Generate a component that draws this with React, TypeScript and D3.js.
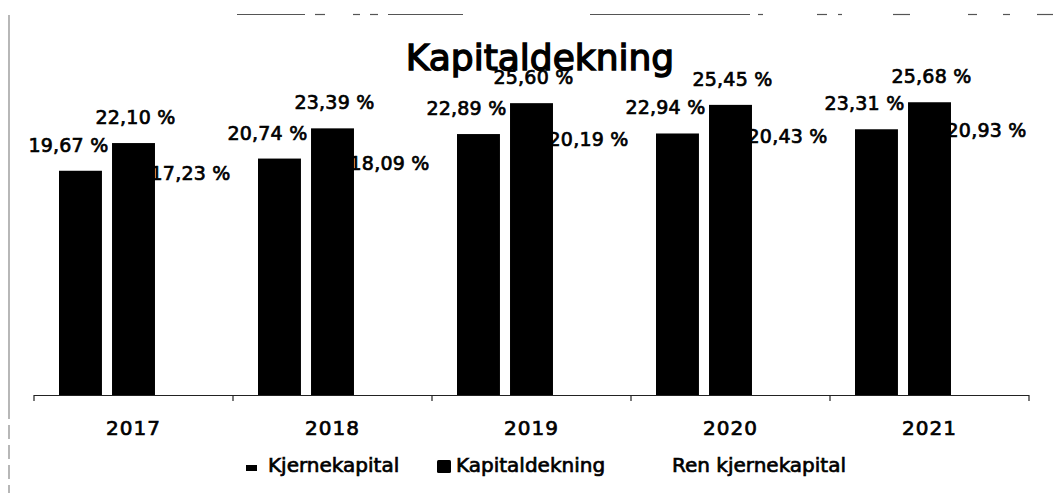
import React from "react";
import { scaleBand, scaleLinear, range } from "d3";

const years = ["2017", "2018", "2019", "2020", "2021"];
const seriesNames = ["Kjernekapital", "Kapitaldekning", "Ren kjernekapital"];
const kjernekapital = [19.67, 20.74, 22.89, 22.94, 23.31];
const kapitaldekning = [22.1, 23.39, 25.6, 25.45, 25.68];
const renKjernekapital = [17.23, 18.09, 20.19, 20.43, 20.93];
const seriesValues = [kjernekapital, kapitaldekning, renKjernekapital];
const seriesFill = ["#000", "#000", "#fff"];

// scanned frame pieces (decoration only)
const topFrame = [
  [237, 305], [315, 325], [353, 360], [370, 378], [388, 463],
  [590, 750], [758, 763], [817, 827], [838, 842], [893, 910],
  [968, 977], [1003, 1010], [1037, 1053],
];

const fmt = (v: number) => v.toFixed(2).replace(".", ",") + " %";

const App = () => {
  const width = 1060;
  const height = 493;
  const baseY = 395;

  const x = scaleBand<string>().domain(years).range([34, 1029]).padding(0);
  const inner = scaleBand<string>()
    .domain(seriesNames)
    .range([-74.5, 74.5])
    .paddingInner(0.19)
    .paddingOuter(0);
  const y = scaleLinear().domain([0, 30]).range([baseY, 53]);

  const labelShift = [-12, 2, 4];
  const font = "'DejaVu Sans', Verdana, sans-serif";

  return (
    <svg
      width={width}
      height={height}
      style={{ position: "absolute", left: 0, top: 0, background: "#fff" }}
      fontFamily={font}
    >
      {/* frame */}
      <line x1={9} x2={9} y1={15} y2={405} stroke="#888" strokeWidth={1.2} />
      <line x1={9} x2={9} y1={405} y2={493} stroke="#888" strokeWidth={1.2} strokeDasharray="14 6" />
      {topFrame.map(([a, b], i) => (
        <line key={i} x1={a} x2={b} y1={14.5} y2={14.5} stroke="#555" strokeWidth={1.2} />
      ))}

      {/* bars */}
      {seriesNames.map((s, si) =>
        years.map((yr, i) => {
          const v = seriesValues[si][i];
          const cx = (x(yr) as number) + x.bandwidth() / 2;
          return (
            <rect
              key={s + yr}
              x={cx + (inner(s) as number)}
              y={y(v)}
              width={inner.bandwidth()}
              height={baseY - y(v)}
              fill={seriesFill[si]}
            />
          );
        })
      )}

      {/* axis */}
      <line x1={34} x2={1029} y1={baseY + 0.5} y2={baseY + 0.5} stroke="#222" strokeWidth={1} />
      {range(years.length + 1).map((i) => {
        const tx = 34 + i * x.step();
        return <line key={i} x1={tx} x2={tx} y1={baseY} y2={baseY + 6} stroke="#222" strokeWidth={1.2} />;
      })}
      {years.map((yr) => (
        <text
          key={yr}
          x={(x(yr) as number) + x.bandwidth() / 2}
          y={435}
          textAnchor="middle"
          fontSize={20}
          letterSpacing={1}
          fill="#000"
          stroke="#000"
          strokeWidth={0.7}
        >
          {yr}
        </text>
      ))}

      {/* value labels */}
      {seriesNames.map((s, si) =>
        years.map((yr, i) => {
          const v = seriesValues[si][i];
          const cx = (x(yr) as number) + x.bandwidth() / 2 + (inner(s) as number) + inner.bandwidth() / 2;
          return (
            <text
              key={"l" + s + yr}
              x={cx + labelShift[si]}
              y={y(v) - 19}
              textAnchor="middle"
              fontSize={19}
              letterSpacing={0.2}
              fill="#000"
              stroke="#000"
              strokeWidth={0.7}
            >
              {fmt(v)}
            </text>
          );
        })
      )}

      {/* title */}
      <text
        x={540}
        y={70}
        textAnchor="middle"
        fontSize={36}
        fill="#000"
        stroke="#000"
        strokeWidth={1.4}
      >
        Kapitaldekning
      </text>

      {/* legend */}
      <g fontSize={20} fill="#000">
        <rect x={246} y={465} width={11} height={6} fill="#000" />
        <text x={268} y={472} stroke="#000" strokeWidth={0.7}>{seriesNames[0]}</text>
        <rect x={437} y={460} width={14} height={13} rx={1.5} fill="#000" />
        <text x={456} y={472} stroke="#000" strokeWidth={0.7}>{seriesNames[1]}</text>
        <rect x={652} y={460} width={14} height={13} fill="#fff" />
        <text x={672} y={472} stroke="#000" strokeWidth={0.7}>{seriesNames[2]}</text>
      </g>
    </svg>
  );
};

export default App;
